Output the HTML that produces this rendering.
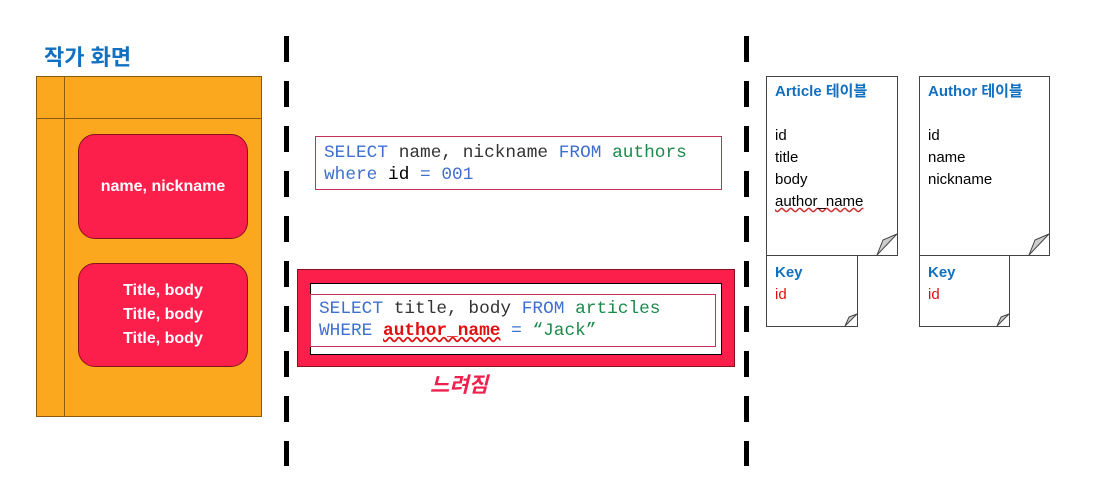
<!DOCTYPE html>
<html><head><meta charset="utf-8"><style>
body{margin:0;width:1093px;height:503px;background:#fff;position:relative;overflow:hidden;font-family:"Liberation Sans","Noto Sans CJK KR",sans-serif}
.a{position:absolute;box-sizing:border-box}
.dash{position:absolute;width:5px;background:repeating-linear-gradient(#000 0 26px,transparent 26px 45px)}
.mono{font-family:"Liberation Mono","DejaVu Sans Mono",monospace;font-size:17.8px;line-height:22px;color:#333;white-space:nowrap}
.b{color:#3f6fce}.g{color:#1a8a4a}
.rr{background:#fc1f4c;border:1px solid #8a1020;border-radius:17px;color:#fff;font-size:16px;text-align:center;display:flex;align-items:center;justify-content:center;line-height:24px;font-weight:bold}
.doc{border:1px solid #444;background:#fff;font-size:15px;line-height:22px;padding:4px 8px;color:#000}
.ttl{color:#1170c0;font-weight:bold;font-size:15px}
</style></head><body>
<div class="a ttl" style="left:44px;top:40px;font-size:22px">작가 화면</div>
<div class="a" style="left:36px;top:76px;width:226px;height:341px;background:#fca81f;border:1px solid #8a5a10"></div>
<div class="a" style="left:64px;top:76px;width:1px;height:341px;background:#8a5a10"></div>
<div class="a" style="left:36px;top:118px;width:226px;height:1px;background:#8a5a10"></div>
<div class="a rr" style="left:78px;top:134px;width:170px;height:105px">name, nickname</div>
<div class="a rr" style="left:78px;top:263px;width:170px;height:104px">Title, body<br>Title, body<br>Title, body</div>
<div class="dash" style="left:284px;top:36px;height:430px"></div>
<div class="dash" style="left:744px;top:36px;height:430px"></div>
<div class="a mono" style="left:315px;top:136px;width:407px;height:54px;border:1px solid #c8305a;padding:5px 8px"><span class="b">SELECT</span> name, nickname <span class="b">FROM</span> <span class="g">authors</span><br><span class="b">where</span> <span style="color:#000">id</span> <span class="b">= 001</span></div>
<div class="a" style="left:297px;top:269px;width:438px;height:98px;background:#fc1f4c;border:1px solid #8a1020"></div>
<div class="a" style="left:310px;top:283px;width:412px;height:72px;background:#fff;border:1px solid #000"></div>
<div class="a mono" style="left:310px;top:294px;width:406px;height:53px;border:1px solid #c8305a;padding:3px 8px"><span class="b">SELECT</span> title, body <span class="b">FROM</span> <span class="g">articles</span><br><span class="b">WHERE</span> <b style="color:#e01010;text-decoration:underline wavy #e01010">author_name</b> <span class="b">=</span> <span class="g">“Jack”</span></div>
<div class="a" style="left:430px;top:369px;color:#f0204c;font-size:21px;font-weight:bold;font-style:italic">느려짐</div>

<div class="a doc" style="left:766px;top:76px;width:132px;height:180px"><div class="ttl">Article 테이블</div><br>id<br>title<br>body<br><span style="text-decoration:underline wavy #d03030">author_name</span></div>
<div class="a doc" style="left:766px;top:255px;width:92px;height:72px;padding-top:6px"><div class="ttl">Key</div><span style="color:#e01010">id</span></div>
<div class="a doc" style="left:919px;top:76px;width:131px;height:180px"><div class="ttl">Author 테이블</div><br>id<br>name<br>nickname</div>
<div class="a doc" style="left:919px;top:255px;width:91px;height:72px;padding-top:6px"><div class="ttl">Key</div><span style="color:#e01010">id</span></div>
<svg class="a" style="left:0;top:0" width="1093" height="503">
<polygon points="897,234 877,255 883,240" fill="#ccc" stroke="#444"/>
<polygon points="1049,234 1029,255 1035,240" fill="#ccc" stroke="#444"/>
<polygon points="857,314 845,326 849,317" fill="#ccc" stroke="#444"/>
<polygon points="1009,314 997,326 1001,317" fill="#ccc" stroke="#444"/>
</svg>
</body></html>
